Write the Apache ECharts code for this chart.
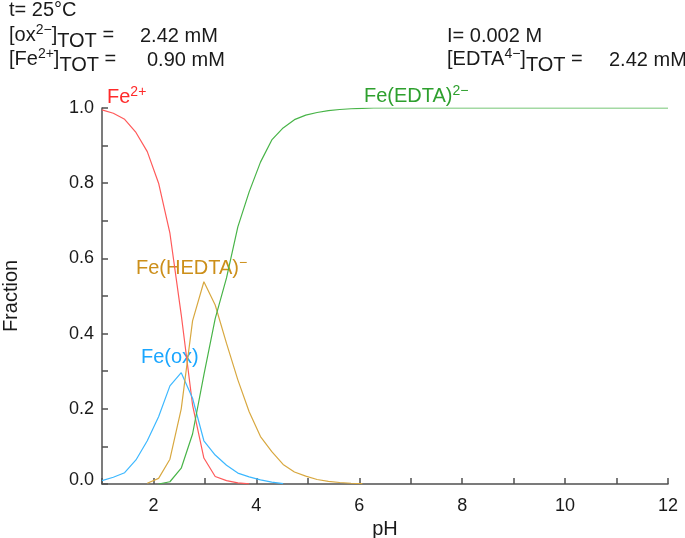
<!DOCTYPE html>
<html><head><meta charset="utf-8">
<script src="https://cdn.jsdelivr.net/npm/echarts@6/dist/echarts.min.js"></script>
<style>html,body{margin:0;padding:0;background:#fff}#c{width:685px;height:538px}</style>
</head><body><div id="c"></div>
<script>
// pH grid (51 calculation points)
var pH = [1.00,1.22,1.44,1.66,1.88,2.10,2.32,2.54,2.76,2.98,3.20,3.42,3.64,3.86,4.08,4.30,4.52,4.74,4.96,5.18,5.40,5.62,5.84,6.06,6.28,6.50,6.72,6.94,7.16,7.38,7.60,7.82,8.04,8.26,8.48,8.70,8.92,9.14,9.36,9.58,9.80,10.02,10.24,10.46,10.68,10.90,11.12,11.34,11.56,11.78,12.00];
var fe2 = [0.995,0.986,0.970,0.935,0.884,0.800,0.667,0.450,0.210,0.069,0.020,0.009,0.003,0.0005];
var feOx = [0.009,0.018,0.030,0.064,0.115,0.179,0.261,0.296,0.228,0.115,0.077,0.050,0.029,0.019,0.011,0.005,0.001];
var feHEDTA = [null,null,null,null,0.002,0.015,0.066,0.200,0.434,0.538,0.476,0.374,0.277,0.192,0.126,0.086,0.052,0.032,0.021,0.012,0.007,0.004,0.002,0.001];
var feEDTA = [null,null,null,null,null,0.000,0.006,0.042,0.133,0.290,0.440,0.548,0.684,0.777,0.856,0.915,0.947,0.969,0.981,0.988,0.993,0.996,0.998,0.999,1,1,1,1,1,1,1,1,1,1,1,1,1,1,1,1,1,1,1,1,1,1,1,1,1,1,1];
var xTicks = [2,4,6,8,10,12];
var yTicks = [0.0,0.2,0.4,0.6,0.8,1.0];

function pairs(arr){ var out=[]; for(var i=0;i<arr.length;i++){ if(arr[i]!==null) out.push([pH[i],arr[i]]); } return out; }

var FONT = 'Liberation Sans, Arial, sans-serif';
var TXT = '#1a1a1a';
function richHdr(col){ return {
  b:{fontSize:20,fontFamily:FONT,fill:col,lineHeight:32,verticalAlign:'middle'},
  sup:{fontSize:14,fontFamily:FONT,fill:col,padding:[4,0,0,0],verticalAlign:'top'},
  sub:{fontSize:20,fontFamily:FONT,fill:col,lineHeight:20,verticalAlign:'bottom'}
};}
function richLbl(col){ return {
  b:{fontSize:20,fontFamily:FONT,fill:col,lineHeight:24,verticalAlign:'middle'},
  sup:{fontSize:14,fontFamily:FONT,fill:col,lineHeight:14,verticalAlign:'top'}
};}
function hdr(x,y,t){ return {type:'text',left:x,top:y,style:{text:t,rich:richHdr(TXT),fill:TXT,font:'20px '+FONT}}; }
function plain(x,y,t){ return {type:'text',left:x,top:y,style:{text:t,fill:TXT,font:'20px '+FONT,lineHeight:20}}; }
function lbl(x,y,t,col){ return {type:'text',left:x,top:y,style:{text:t,rich:richLbl(col),fill:col,font:'20px '+FONT}}; }

var chart = echarts.init(document.getElementById('c'));
chart.setOption({
  animation:false,
  grid:{left:102,right:17,top:108,bottom:54,containLabel:false,outerBoundsMode:'none'},
  xAxis:{type:'value',min:1,max:12,interval:1,
    name:'pH',nameLocation:'middle',nameGap:24,nameTextStyle:{fontSize:20,fontFamily:FONT,color:TXT},
    axisLine:{lineStyle:{color:'#505050',width:1.5}},
    axisTick:{inside:true,length:6,lineStyle:{color:'#505050',width:1.5}},
    splitLine:{show:false},
    axisLabel:{margin:13,fontSize:18,fontFamily:FONT,color:TXT,formatter:function(v){return xTicks.indexOf(v)>=0?String(v):'';}}},
  yAxis:{type:'value',min:0,max:1,interval:0.1,
    name:'Fraction',nameLocation:'middle',nameGap:81,nameTextStyle:{fontSize:20,fontFamily:FONT,color:TXT},
    axisLine:{show:true,lineStyle:{color:'#505050',width:1.5}},
    axisTick:{show:true,inside:true,length:6,lineStyle:{color:'#505050',width:1.5}},
    splitLine:{show:false},
    axisLabel:{margin:8,fontSize:18,fontFamily:FONT,color:TXT,
      formatter:function(v){var r=Math.round(v*10)/10; if(!yTicks.some(function(t){return Math.abs(t-r)<1e-6;})) return ''; return r===0?'{z|0.0}':r.toFixed(1);},
      rich:{z:{fontSize:18,fontFamily:FONT,color:TXT,padding:[0,0,8,0]}}}},
  series:[
    {type:'line',data:pairs(fe2),showSymbol:false,lineStyle:{color:'#ff5a5a',width:1.2},z:3},
    {type:'line',data:pairs(feOx),showSymbol:false,lineStyle:{color:'#3db8ff',width:1.2},z:3},
    {type:'line',data:pairs(feHEDTA),showSymbol:false,lineStyle:{color:'#d8a840',width:1.2},z:3},
    {type:'line',data:pairs(feEDTA),showSymbol:false,lineStyle:{color:'#48b448',width:1.2},z:3}
  ],
  graphic:[
    plain(9,0,'t= 25°C'),
    hdr(9,23,'{b|[ox}{sup|2−}{b|]}{sub|TOT}{b| =}'),
    plain(140,26,'2.42 mM'),
    hdr(9,47,'{b|[Fe}{sup|2+}{b|]}{sub|TOT}{b| =}'),
    plain(147,50,'0.90 mM'),
    plain(447,26,'I= 0.002 M'),
    hdr(447,47,'{b|[EDTA}{sup|4−}{b|]}{sub|TOT}{b| =}'),
    plain(609,50,'2.42 mM'),
    lbl(107,85,'{b|Fe}{sup|2+}','#ff2a2a'),
    lbl(364,84,'{b|Fe(EDTA)}{sup|2−}','#2ea02e'),
    lbl(136,256,'{b|Fe(HEDTA)}{sup|−}','#cc8f1a'),
    lbl(141,347,'{b|Fe(ox)}','#1aa6ff')
  ]
});
</script></body></html>
